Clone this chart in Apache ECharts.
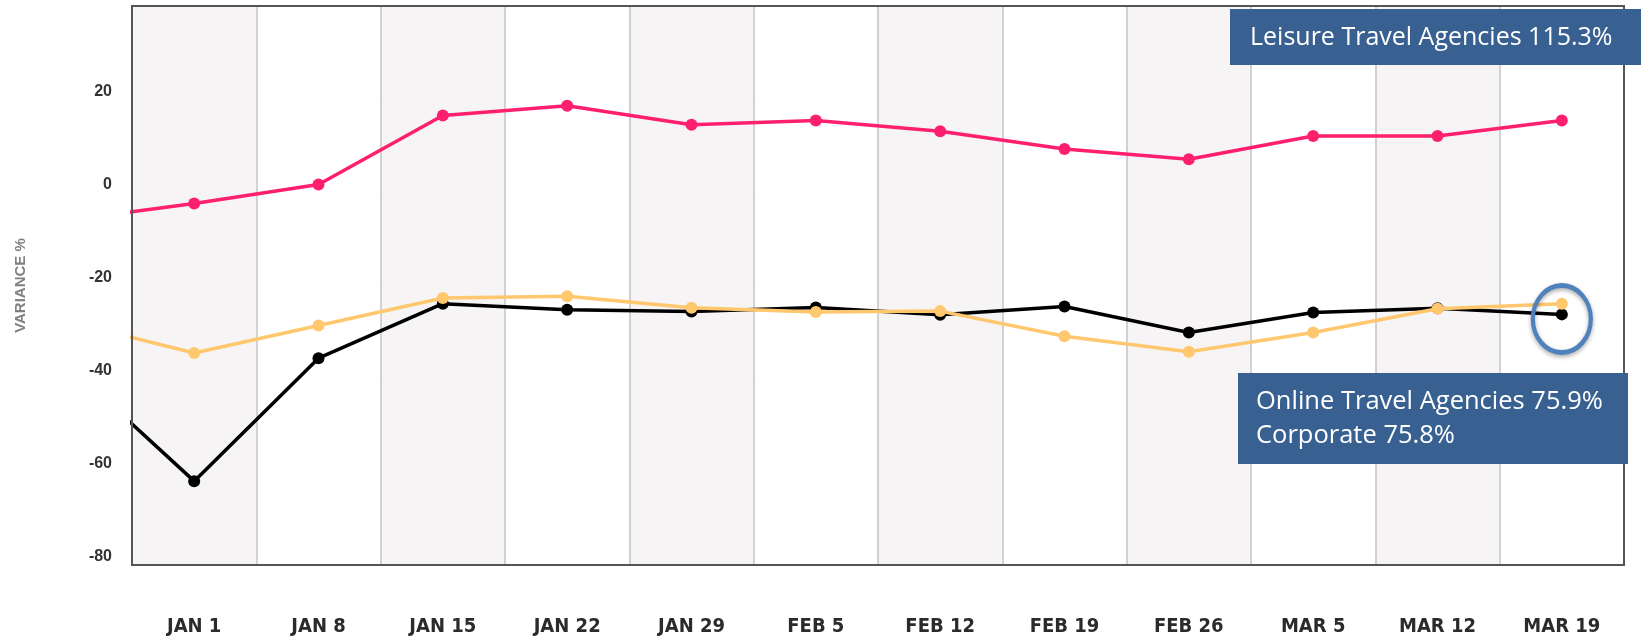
<!DOCTYPE html>
<html>
<head>
<meta charset="utf-8">
<script src="https://cdn.jsdelivr.net/npm/echarts@6/dist/echarts.min.js"></script>
<style>html,body{margin:0;padding:0;background:#fff;}#c{width:1641px;height:639px;}</style>
</head>
<body>
<div id="c"></div>
<script>
// First category is the (off-chart) previous week, only its connecting segment is visible
const categories = ['DEC 25','JAN 1','JAN 8','JAN 15','JAN 22','JAN 29','FEB 5','FEB 12','FEB 19','FEB 26','MAR 5','MAR 12','MAR 19'];
const leisure   = [-5.9, -2.4, 1.7, 16.5, 18.6, 14.5, 15.4, 13.1, 9.3, 7.1, 12.1, 12.1, 15.4];
const online    = [-37.4, -62.0, -35.6, -23.9, -25.2, -25.6, -24.7, -26.3, -24.5, -30.1, -25.8, -24.9, -26.2];
const corporate = [-27.8, -34.5, -28.6, -22.7, -22.3, -24.8, -25.7, -25.5, -30.9, -34.2, -30.1, -25.0, -23.9];
const yTicks = [-80, -60, -40, -20, 0, 20, 40];
const leisureNote = 'Leisure Travel Agencies 115.3%';
const otherNotes = ['Online Travel Agencies 75.9%', 'Corporate 75.8%'];
const circledCategory = 'MAR 19';
const circledValue = -27.2;

const chart = echarts.init(document.getElementById('c'), null, {renderer: 'canvas'});
const lineStyleFor = c => ({color: c, width: 3.5});
const noteFont = 'Open Sans, Noto Sans';
const opt = {
  animation: false,
  backgroundColor: '#fff',
  grid: {left: 132, right: 17, top: 6, bottom: 74, show: true, borderColor: '#555', borderWidth: 2, backgroundColor: 'transparent', z: 5},
  xAxis: {
    type: 'category', data: categories, min: 1, boundaryGap: true,
    axisLine: {show: false}, axisTick: {show: false},
    axisLabel: {margin: 52, fontFamily: 'Liberation Sans Narrow, DejaVu Sans Condensed, Arial', fontWeight: 'bold', fontSize: 20, color: '#2b2b2b'},
    splitLine: {show: true, lineStyle: {color: '#c4c4c4', width: 1.5}},
    splitArea: {show: true, areaStyle: {color: ['#f6f4f5', '#ffffff']}}
  },
  yAxis: {
    type: 'value', min: yTicks[0], max: yTicks[yTicks.length - 1], interval: 20,
    name: 'VARIANCE %', nameLocation: 'middle', nameGap: 104,
    nameTextStyle: {color: '#808080', fontWeight: 'bold', fontSize: 15, fontFamily: 'Liberation Sans, Arial'},
    axisLine: {show: false}, axisTick: {show: false},
    axisLabel: {showMaxLabel: false, margin: 20, verticalAlign: 'bottom', fontFamily: 'Liberation Sans, Arial', fontWeight: 'bold', fontSize: 16, color: '#333'},
    splitLine: {show: true, lineStyle: {color: '#c4c4c4', width: 1.5}}
  },
  series: [
    {name: 'Online Travel Agencies', type: 'line', data: online, symbol: 'circle', symbolSize: 12,
     itemStyle: {color: '#000'}, lineStyle: lineStyleFor('#000'), z: 3,
     markPoint: {symbol: 'circle', symbolSize: [58, 67], silent: true, label: {show: false},
       itemStyle: {color: 'rgba(0,0,0,0)', borderColor: '#4f81bd', borderWidth: 4.5, shadowBlur: 4, shadowColor: 'rgba(0,0,0,0.35)', shadowOffsetY: 2},
       data: [{coord: [circledCategory, circledValue]}]}},
    {name: 'Corporate', type: 'line', data: corporate, symbol: 'circle', symbolSize: 12,
     itemStyle: {color: '#ffc76e'}, lineStyle: lineStyleFor('#ffc76e'), z: 4},
    {name: 'Leisure Travel Agencies', type: 'line', data: leisure, symbol: 'circle', symbolSize: 12,
     itemStyle: {color: '#ff1f6f'}, lineStyle: lineStyleFor('#ff1f6f'), z: 4}
  ],
  graphic: [
    {type: 'rect', x: 1230, y: 9, shape: {width: 420, height: 56}, style: {fill: '#386192'}, z: 100},
    {type: 'text', x: 1250, y: 38, style: {text: leisureNote, fill: '#fff', fontSize: 25, fontFamily: noteFont, verticalAlign: 'middle'}, z: 101},
    {type: 'rect', x: 1238, y: 373, shape: {width: 390, height: 91}, style: {fill: '#386192'}, z: 100},
    {type: 'text', x: 1256, y: 402, style: {text: otherNotes[0], fill: '#fff', fontSize: 25.5, fontFamily: noteFont, verticalAlign: 'middle'}, z: 101},
    {type: 'text', x: 1256, y: 436, style: {text: otherNotes[1], fill: '#fff', fontSize: 25.5, fontFamily: noteFont, verticalAlign: 'middle'}, z: 101}
  ]
};
chart.setOption(opt);
</script>
</body>
</html>
